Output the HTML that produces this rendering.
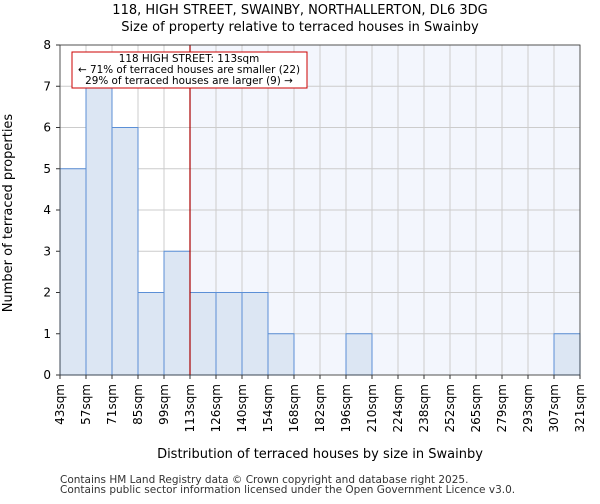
<!DOCTYPE html>
<html><head><meta charset="utf-8"><style>
body{margin:0;background:#fff;font-family:"DejaVu Sans","Liberation Sans",sans-serif;}
svg text{font-family:"DejaVu Sans","Liberation Sans",sans-serif;}
</style></head><body>
<svg id="c" width="600" height="500" xmlns="http://www.w3.org/2000/svg"></svg>
<script>
const binLabels=["43sqm","57sqm","71sqm","85sqm","99sqm","113sqm","126sqm","140sqm","154sqm","168sqm","182sqm","196sqm","210sqm","224sqm","238sqm","252sqm","265sqm","279sqm","293sqm","307sqm","321sqm"];
const counts=[5,7,6,2,3,2,2,2,1,0,0,1,0,0,0,0,0,0,0,1];
const yTicks=[0,1,2,3,4,5,6,7,8];
const markerBin=5;
const svg=document.getElementById('c');
const NS='http://www.w3.org/2000/svg';
const L=60,R=580,T=45,B=375,yMax=8;
const nb=counts.length,bw=(R-L)/nb;
const xs=i=>L+i*bw, ys=v=>B-(v/yMax)*(B-T);
function el(t,a,p){const e=document.createElementNS(NS,t);for(const k in a)e.setAttribute(k,a[k]);(p||svg).appendChild(e);return e;}
let e;
e=el('rect',{x:L,y:T,width:R-L,height:B-T,fill:'#fff'});

e=el('rect',{x:xs(markerBin),y:T,width:R-xs(markerBin),height:B-T,fill:'#f3f6fd'});

for(let i=0;i<=nb;i++){e=el('line',{x1:xs(i),x2:xs(i),y1:T,y2:B,stroke:'#cccccc','stroke-width':1});
}
yTicks.forEach(v=>{e=el('line',{x1:L,x2:R,y1:ys(v),y2:ys(v),stroke:'#cccccc','stroke-width':1});

e=el('line',{x1:L-4,x2:L,y1:ys(v),y2:ys(v),stroke:'#333'});

e=el('text',{x:L-9,y:ys(v)+4,'font-size':12,'text-anchor':'end',fill:'#000'});e.textContent=v;
});
counts.forEach((c,i)=>{if(!c)return;e=el('rect',{x:xs(i),y:ys(c),width:bw,height:B-ys(c),fill:'#dce6f3',stroke:'#5b8fd6','stroke-width':1});
});
binLabels.forEach((t,i)=>{e=el('line',{x1:xs(i),x2:xs(i),y1:B,y2:B+4,stroke:'#333'});

e=el('text',{x:0,y:0,'font-size':12,'text-anchor':'end',transform:`translate(${xs(i)+4},${B+9}) rotate(-90)`});e.textContent=t;
});
e=el('line',{x1:xs(markerBin),x2:xs(markerBin),y1:T,y2:B,stroke:'#aa0000','stroke-width':1.2});

e=el('rect',{x:72,y:52,width:235,height:36,fill:'#fff',stroke:'#cc0000','stroke-width':1});

["118 HIGH STREET: 113sqm","← 71% of terraced houses are smaller (22)","29% of terraced houses are larger (9) →"].forEach((t,k)=>{
e=el('text',{x:189,y:62+k*11,'font-size':10.4,'text-anchor':'middle'});e.textContent=t;
});
e=el('rect',{x:L,y:T,width:R-L,height:B-T,fill:'none',stroke:'#333','stroke-width':0.8});

const titles=[["118, HIGH STREET, SWAINBY, NORTHALLERTON, DL6 3DG",14],["Size of property relative to terraced houses in Swainby",31]];
titles.forEach(([t,y])=>{e=el('text',{x:300,y:y,'font-size':13,'text-anchor':'middle'});e.textContent=t;
});
e=el('text',{x:320,y:458,'font-size':13,'text-anchor':'middle'});e.textContent='Distribution of terraced houses by size in Swainby';

e=el('text',{x:0,y:0,'font-size':13,'text-anchor':'middle',transform:'translate(12,213) rotate(-90)'});e.textContent='Number of terraced properties';

["Contains HM Land Registry data © Crown copyright and database right 2025.","Contains public sector information licensed under the Open Government Licence v3.0."].forEach((t,k)=>{
e=el('text',{x:60,y:483+k*10,'font-size':10.5,fill:'#333'});e.textContent=t;
});
</script>
</body></html>
